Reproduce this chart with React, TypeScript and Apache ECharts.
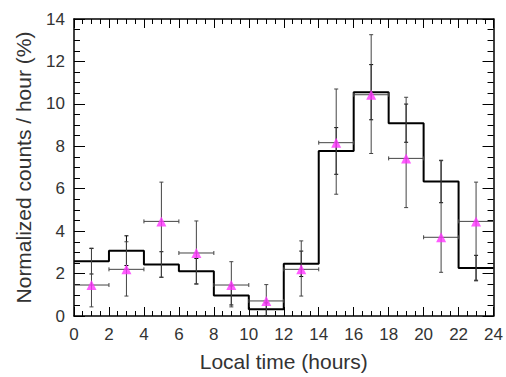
import React, { useEffect, useRef } from "react";
import * as echarts from "echarts";

const binCenters = [1, 3, 5, 7, 9, 11, 13, 15, 17, 19, 21, 23];
const histValues = [2.58, 3.08, 2.43, 2.11, 0.97, 0.32, 2.46, 7.78, 10.55, 9.09, 6.34, 2.26];
const histErr = [0.6, 0.7, 0.6, 0.6, 0.45, 0.3, 0.6, 1.1, 1.3, 0.9, 1.0, 0.6];
const pointValues = [1.46, 2.2, 4.46, 2.97, 1.46, 0.71, 2.2, 8.17, 10.43, 7.43, 3.71, 4.46];
const pointLow = [0.43, 0.94, 1.82, 1.51, 0.43, 0, 0.94, 5.74, 7.66, 5.11, 2.06, 1.69];
const pointHigh = [3.2, 3.5, 6.31, 4.48, 2.56, 1.48, 3.54, 10.7, 13.26, 10.31, 7.32, 6.31];
const binHalfWidth = 1;

const FONT = "'Liberation Sans', Arial, Helvetica, sans-serif";
const TEXT = "#333";

export default function App() {
  const ref = useRef<HTMLDivElement>(null);
  useEffect(() => {
    if (!ref.current) return;
    const chart = echarts.init(ref.current, null, { renderer: "svg" });

    const stepData: number[][] = binCenters.map((c, i) => [c - binHalfWidth, histValues[i]]);
    stepData.push([binCenters[binCenters.length - 1] + binHalfWidth, histValues[histValues.length - 1]]);

    const histErrData = binCenters.map((c, i) => [c, histValues[i] - histErr[i], histValues[i] + histErr[i]]);
    const ptErrData = binCenters.map((c, i) => [c, pointLow[i], pointHigh[i], c - binHalfWidth, c + binHalfWidth, pointValues[i]]);

    const cap = 2;
    const errRender = (color: string, horiz: boolean) => (params: any, api: any) => {
      const x = api.value(0);
      const lo = api.coord([x, api.value(1)]);
      const hi = api.coord([x, api.value(2)]);
      const children: any[] = [
        { type: "line", shape: { x1: lo[0], y1: lo[1], x2: hi[0], y2: hi[1] }, style: { stroke: color, lineWidth: 1 } },
        { type: "line", shape: { x1: hi[0] - cap, y1: hi[1], x2: hi[0] + cap, y2: hi[1] }, style: { stroke: color, lineWidth: 1 } },
        { type: "line", shape: { x1: lo[0] - cap, y1: lo[1], x2: lo[0] + cap, y2: lo[1] }, style: { stroke: color, lineWidth: 1 } },
      ];
      if (horiz) {
        const y = api.value(5);
        const l = api.coord([api.value(3), y]);
        const r = api.coord([api.value(4), y]);
        children.push(
          { type: "line", shape: { x1: l[0], y1: l[1], x2: r[0], y2: r[1] }, style: { stroke: color, lineWidth: 1 } },
          { type: "line", shape: { x1: l[0], y1: l[1] - cap, x2: l[0], y2: l[1] + cap }, style: { stroke: color, lineWidth: 1 } },
          { type: "line", shape: { x1: r[0], y1: r[1] - cap, x2: r[0], y2: r[1] + cap }, style: { stroke: color, lineWidth: 1 } }
        );
      }
      return { type: "group", children };
    };

    const axisCommonX = {
      type: "value" as const,
      min: 0,
      max: 24,
      interval: 2,
      axisLine: { show: true, onZero: false, lineStyle: { color: "#000", width: 1.5 } },
      axisTick: { show: true, inside: true, length: 9, lineStyle: { color: "#000", width: 1 } },
      minorTick: { show: true, splitNumber: 4, length: 5, lineStyle: { color: "#000", width: 1 } },
      splitLine: { show: false },
    };
    const axisCommonY = {
      type: "value" as const,
      min: 0,
      max: 14,
      interval: 2,
      axisLine: { show: true, onZero: false, lineStyle: { color: "#000", width: 1.5 } },
      axisTick: { show: true, inside: true, length: 11, lineStyle: { color: "#000", width: 1 } },
      minorTick: { show: true, splitNumber: 4, length: 6, lineStyle: { color: "#000", width: 1 } },
      splitLine: { show: false },
    };

    chart.setOption({
      animation: false,
      backgroundColor: "#fff",
      grid: { left: 74, right: 9, top: 19, bottom: 54, containLabel: false },
      xAxis: [
        {
          ...axisCommonX,
          position: "bottom",
          axisLabel: { fontSize: 17, color: TEXT, fontFamily: FONT, margin: 10 },
          name: "Local time (hours)",
          nameLocation: "middle",
          nameGap: 35,
          nameTextStyle: { fontSize: 21, color: TEXT, fontFamily: FONT },
        },
        { ...axisCommonX, position: "top", axisLabel: { show: false } },
      ],
      yAxis: [
        {
          ...axisCommonY,
          position: "left",
          axisLabel: { fontSize: 17, color: TEXT, fontFamily: FONT, margin: 9 },
          name: "Normalized counts / hour (%)",
          nameLocation: "middle",
          nameGap: 40,
          nameTextStyle: { fontSize: 21, color: TEXT, fontFamily: FONT },
        },
        { ...axisCommonY, position: "right", axisLabel: { show: false } },
      ],
      series: [
        {
          type: "line",
          step: "end",
          data: stepData,
          showSymbol: false,
          symbol: "none",
          lineStyle: { color: "#000", width: 2 },
          z: 3,
        },
        {
          type: "custom",
          data: histErrData,
          renderItem: errRender("#000", false),
          z: 4,
        },
        {
          type: "custom",
          data: ptErrData,
          renderItem: errRender("#444", true),
          z: 5,
        },
        {
          type: "scatter",
          data: binCenters.map((c, i) => [c, pointValues[i]]),
          symbol: "triangle",
          symbolSize: 10,
          itemStyle: { color: "#ff33ff" },
          z: 6,
        },
      ],
    });
    return () => chart.dispose();
  }, []);
  return <div ref={ref} style={{ position: "fixed", left: 0, top: 0, width: 506, height: 377 }} />;
}
